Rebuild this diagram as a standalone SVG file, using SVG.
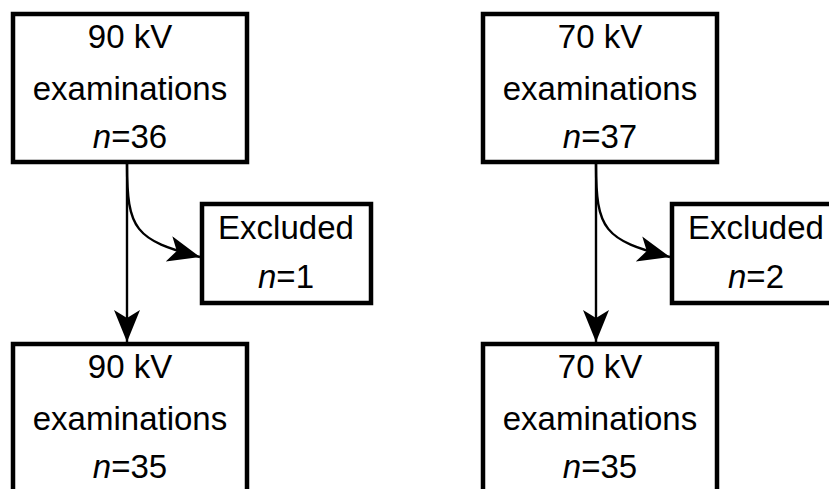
<svg xmlns="http://www.w3.org/2000/svg" width="829" height="489" viewBox="0 0 829 489">
  <style>
    .box { fill: #ffffff; stroke: #000000; stroke-width: 4.5; }
    .lbl { font-family: "Liberation Sans", Arial, sans-serif; font-size: 33px; fill: #000000; text-anchor: middle; }
    .it { font-style: italic; }
    .edge { fill: none; stroke: #000000; stroke-width: 2.4; }
  </style>
  <defs>
    <marker id="arr" markerUnits="userSpaceOnUse" markerWidth="34" markerHeight="28" refX="32" refY="13" orient="auto" viewBox="0 0 34 28">
      <path d="M0,0 L32,13 L0,26 L8,13 Z" fill="#000000"/>
    </marker>
  </defs>
  <rect width="829" height="489" fill="#ffffff"/>

  <g id="connectors">
    <path class="edge" d="M127,164 L127,342" marker-end="url(#arr)"/>
    <path class="edge" d="M127,164 C127,230 135,240 200,257" marker-end="url(#arr)"/>
    <path class="edge" d="M596,164 L596,342" marker-end="url(#arr)"/>
    <path class="edge" d="M596,164 C596,230 604,240 670,257" marker-end="url(#arr)"/>
  </g>

  <g id="node-90-top">
    <rect class="box" x="13" y="14" width="234" height="148"/>
    <text class="lbl" x="130" y="48">90 kV</text>
    <text class="lbl" x="130" y="100">examinations</text>
    <text class="lbl" x="130" y="148"><tspan class="it">n</tspan>=36</text>
  </g>

  <g id="node-90-excluded">
    <rect class="box" x="202" y="204" width="169" height="99"/>
    <text class="lbl" x="286" y="239">Excluded</text>
    <text class="lbl" x="286" y="288"><tspan class="it">n</tspan>=1</text>
  </g>

  <g id="node-90-bottom">
    <rect class="box" x="13" y="344" width="234" height="160"/>
    <text class="lbl" x="130" y="378">90 kV</text>
    <text class="lbl" x="130" y="430">examinations</text>
    <text class="lbl" x="130" y="478"><tspan class="it">n</tspan>=35</text>
  </g>

  <g id="node-70-top">
    <rect class="box" x="483" y="14" width="234" height="148"/>
    <text class="lbl" x="600" y="48">70 kV</text>
    <text class="lbl" x="600" y="100">examinations</text>
    <text class="lbl" x="600" y="148"><tspan class="it">n</tspan>=37</text>
  </g>

  <g id="node-70-excluded">
    <rect class="box" x="672" y="204" width="169" height="99"/>
    <text class="lbl" x="756" y="239">Excluded</text>
    <text class="lbl" x="756" y="288"><tspan class="it">n</tspan>=2</text>
  </g>

  <g id="node-70-bottom">
    <rect class="box" x="483" y="344" width="234" height="160"/>
    <text class="lbl" x="600" y="378">70 kV</text>
    <text class="lbl" x="600" y="430">examinations</text>
    <text class="lbl" x="600" y="478"><tspan class="it">n</tspan>=35</text>
  </g>
</svg>
